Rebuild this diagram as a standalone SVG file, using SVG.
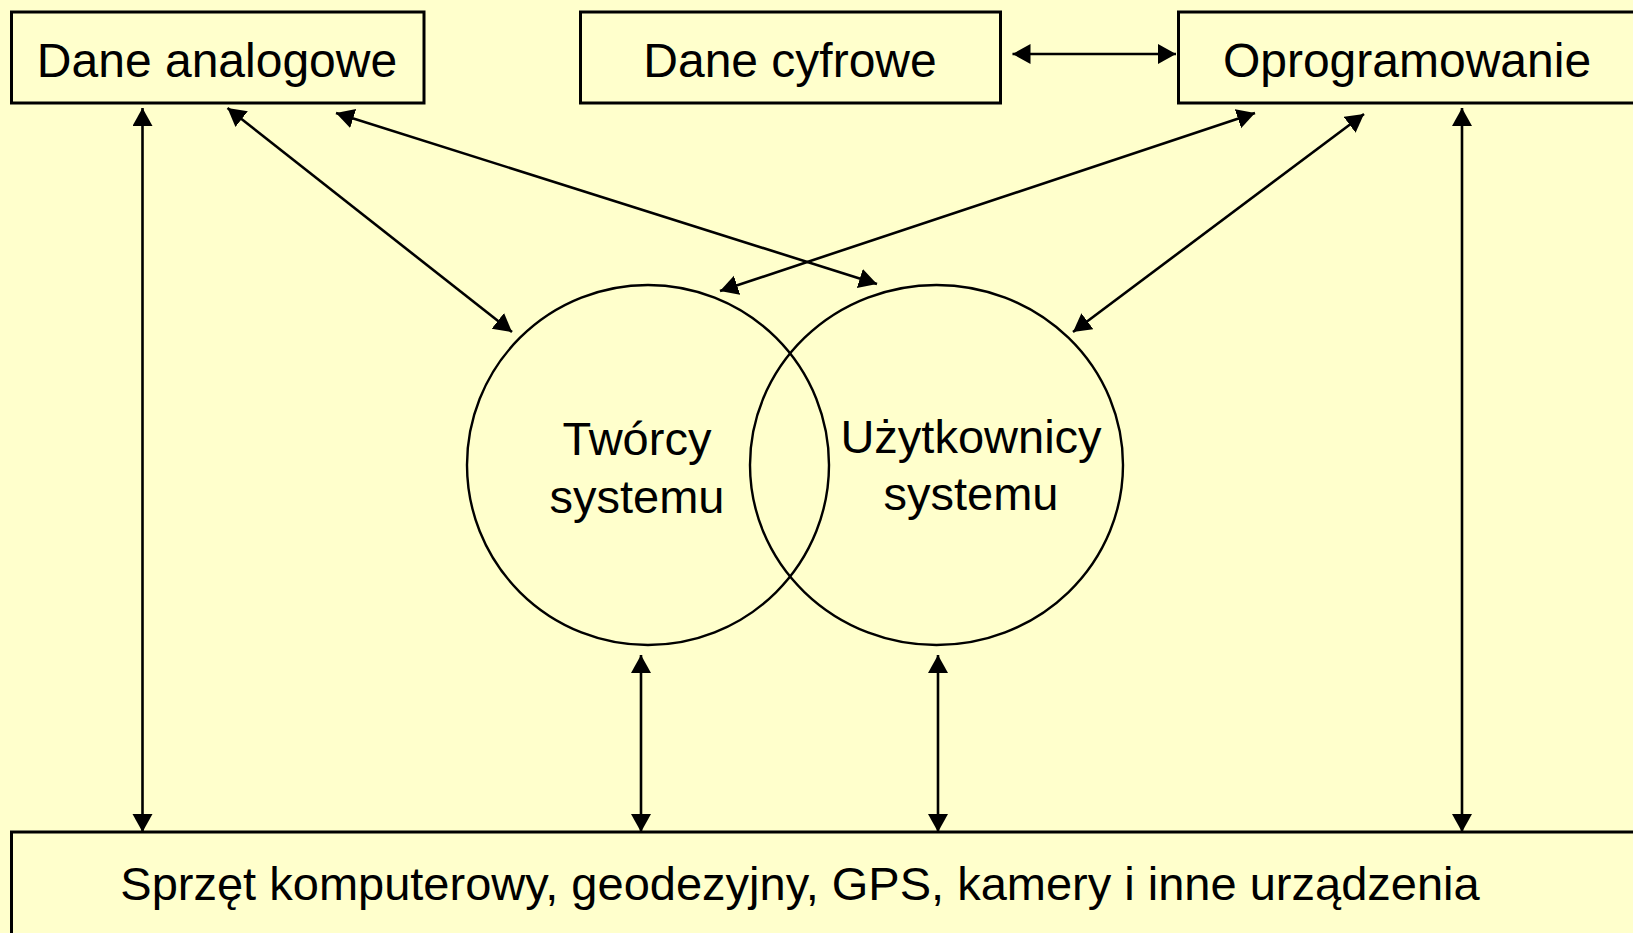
<svg xmlns="http://www.w3.org/2000/svg" width="1633" height="933" viewBox="0 0 1633 933">
<style>
.box{fill:none;stroke:#000;stroke-width:3}
.circ{fill:none;stroke:#000;stroke-width:2.4}
.lbl{font-family:"Liberation Sans",Arial,sans-serif;font-size:47px;fill:#000;text-anchor:middle}
.top{font-size:48px}
.con{stroke:#000;stroke-width:2.6;fill:none;marker-start:url(#ah);marker-end:url(#ah)}
</style>
<defs>
<marker id="ah" markerUnits="userSpaceOnUse" markerWidth="20" markerHeight="22" refX="18" refY="10" orient="auto-start-reverse">
<path d="M0,0 L18,10 L0,20 z" fill="#000"/>
</marker>
</defs>
<rect x="0" y="0" width="1633" height="933" fill="#FFFFCC"/>
<g id="connectors">
<line class="con" x1="1012.5" y1="54" x2="1176" y2="54"/>
<line class="con" x1="227.5" y1="108" x2="512" y2="332"/>
<line class="con" x1="336" y1="113" x2="877" y2="284"/>
<line class="con" x1="1255" y1="113" x2="720" y2="291"/>
<line class="con" x1="1364" y1="114" x2="1073" y2="332"/>
<line class="con" x1="142.5" y1="108" x2="142.5" y2="832"/>
<line class="con" x1="641" y1="655" x2="641" y2="832"/>
<line class="con" x1="938" y1="655" x2="938" y2="832"/>
<line class="con" x1="1462" y1="108" x2="1462" y2="832"/>
</g>
<g id="dane-analogowe">
<rect class="box" x="11.5" y="12" width="412.5" height="91"/>
<text class="lbl top" x="217" y="77">Dane analogowe</text>
</g>
<g id="dane-cyfrowe">
<rect class="box" x="580.5" y="12" width="420" height="91"/>
<text class="lbl top" x="790" y="77">Dane cyfrowe</text>
</g>
<g id="oprogramowanie">
<rect class="box" x="1178.5" y="12" width="460" height="91"/>
<text class="lbl top" x="1407" y="77">Oprogramowanie</text>
</g>
<g id="tworcy">
<ellipse class="circ" cx="648" cy="465" rx="181" ry="180"/>
<text class="lbl" x="637" y="455">Twórcy</text>
<text class="lbl" x="637" y="513">systemu</text>
</g>
<g id="uzytkownicy">
<ellipse class="circ" cx="936.5" cy="465" rx="186.5" ry="180"/>
<text class="lbl" x="971" y="453">Użytkownicy</text>
<text class="lbl" x="971" y="510">systemu</text>
</g>
<g id="sprzet">
<rect class="box" x="11.5" y="832" width="1630" height="110"/>
<text class="lbl" x="800" y="900">Sprzęt komputerowy, geodezyjny, GPS, kamery i inne urządzenia</text>
</g>
</svg>
